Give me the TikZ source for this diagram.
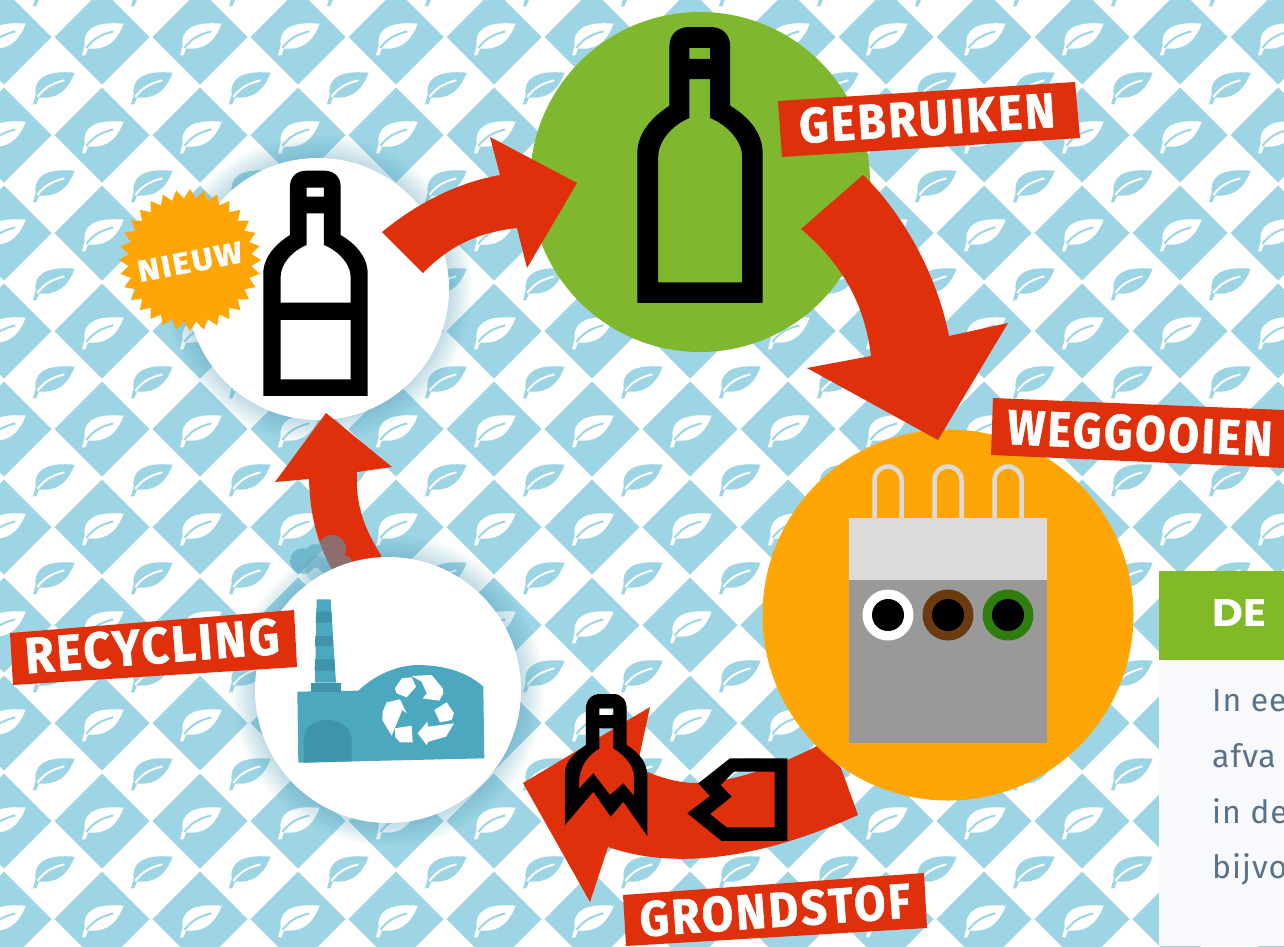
\documentclass[tikz,border=0pt]{standalone}
\usepackage{fontspec}
\usepackage{graphicx}
\usetikzlibrary{shapes.geometric}
\newfontfamily\labfont[LetterSpace=6,BoldFeatures={FakeBold=1.2}]{Fira Sans}
\newfontfamily\headfont{Poppins}
\newfontfamily\bodyfont[LetterSpace=3]{Fira Sans}
\definecolor{tileblue}{HTML}{9DD5E5}
\definecolor{redarrow}{HTML}{DF2F0B}
\definecolor{greenc}{HTML}{7FB82F}
\definecolor{orangec}{HTML}{FFA505}
\definecolor{factory}{HTML}{4BA8BE}
\definecolor{factoryd}{HTML}{3F93AB}
\definecolor{panel}{HTML}{F8F9FD}
\definecolor{panelgreen}{HTML}{82BA27}
\definecolor{bodytext}{HTML}{5A7186}
\definecolor{shadowc}{HTML}{4FA0BC}
\definecolor{holebrown}{HTML}{6B3A10}
\definecolor{holegreen}{HTML}{2F7D0C}
\tikzset{
  tile/.style={fill=tileblue},
  arrowshape/.style={fill=redarrow},
  labelbar/.style={fill=redarrow},
  labeltext/.style={text=white,inner sep=0pt,font=\labfont\bfseries},
  ink/.style={fill=black,even odd rule},
  bodyline/.style={anchor=base west,inner sep=0pt,text=bodytext,font=\bodyfont\fontsize{32}{32}\selectfont},
}
% leaf at centre (#1,#2), body colour #3, vein colour #4
\newcommand{\leafat}[4]{%
  \begin{scope}[shift={(#1,#2)},x=.3333pt,y=-.3333pt]
    \fill[#3] (-60,55) -- (-52,25) .. controls (-58,-20) and (-25,-48) .. (65,-40)
      .. controls (50,0) and (25,34) .. (-25,35) -- (-42,35) -- (-50,55) -- cycle;
    \draw[#4,line width=2pt] (-47,33) .. controls (-25,3) and (0,-8) .. (34,-17);
  \end{scope}}
\newcommand{\softshadow}[3]{%
  \foreach \k in {1,...,12}{\fill[shadowc,opacity=.03] (#1,#2) circle[radius={#3+25-2*\k}];}}
\begin{document}
\begin{tikzpicture}[x=1pt,y=-1pt]
\useasboundingbox (0,0) rectangle (1284,946);
\fill[white] (0,0) rectangle (1284,946);
% pattern
\begin{scope}
\clip (0,0) rectangle (1284,946);
\foreach \i in {0,...,13}{\foreach \j in {0,...,9}{
  \pgfmathsetmacro{\cx}{4+98*\i}\pgfmathsetmacro{\cy}{37+98*\j}
  \fill[tile] (\cx-47.5,\cy) -- (\cx,\cy-47.5) -- (\cx+47.5,\cy) -- (\cx,\cy+47.5) -- cycle;
  \leafat{\cx}{\cy}{white}{tileblue}
  \pgfmathsetmacro{\dx}{53+98*\i}\pgfmathsetmacro{\dy}{86+98*\j}
  \leafat{\dx}{\dy}{tileblue}{white}
}}
\foreach \i in {0,...,13}{
  \pgfmathsetmacro{\dx}{53+98*\i}
  \leafat{\dx}{-12}{tileblue}{white}
}
\end{scope}
% shadows
\softshadow{318}{289}{131}
\softshadow{388}{690}{133}
% arrow grondstof (under orange circle)
\fill[arrowshape] (817,746) .. controls (780,765) and (735,782) .. (697,783)
  .. controls (675,783) and (655,776) .. (637,767) -- (650,707) -- (523,783) -- (590,902) -- (608,847)
  .. controls (660,865) and (740,868) .. (858,815) -- (841,768) -- cycle;
% circles
\fill[greenc] (700,182) circle[radius=170];
\fill[orangec] (948,615) circle[radius=185.5];
\fill[white] (318,289) circle[radius=131];
% bin
\foreach \hx in {888,948,1008}{
  \draw[draw=black!14,line width=4.5pt] (\hx-13.5,518) -- (\hx-13.5,480) arc[start angle=180,end angle=360,radius=13.5] -- (\hx+13.5,518);}
\fill[black!14] (849,518) rectangle (1047,580);
\fill[black!40] (849,580) rectangle (1047,743);
\foreach \hx/\hc in {888/white,948/holebrown,1008/holegreen}{
  \fill[\hc] (\hx,615) circle[radius=25.5];
  \fill[black] (\hx,615) circle[radius=16];}
% arrow 1
\fill[arrowshape] (382,232) .. controls (415,205) and (455,183) .. (500,175) -- (490,137) -- (577,183) -- (527,268) -- (517,228)
  .. controls (480,232) and (450,245) .. (423,273) -- cycle;
% arrow 2
\fill[arrowshape] (863,175) .. controls (895,205) and (935,265) .. (949,336) -- (1008,323) -- (938,440) -- (807,368) -- (871,356)
  .. controls (866,315) and (850,270) .. (801,229) -- cycle;
% arrow 4
\fill[arrowshape] (382,557) .. controls (365,530) and (355,505) .. (357,472) -- (392,467) -- (326,413) -- (275,482) -- (309,479)
  .. controls (310,520) and (320,555) .. (343,587) -- cycle;
% smoke
\fill[shadowc,opacity=.55] (303,561) circle[radius=13] (316,556) circle[radius=12] (332,549) circle[radius=14] (343,565) circle[radius=10] (330,562) circle[radius=13];
\fill[shadowc,opacity=.3] (318,569) circle[radius=13];
% factory circle
\fill[white] (388,690) circle[radius=133];
% factory
\begin{scope}[shift={(240,530)},x=.3333pt,y=-.3333pt]
  \fill[factory] (230,208) -- (272,208) -- (288,458) -- (225,458) -- cycle;
  \fill[factoryd] (229,245) -- (274,245) -- (276,278) -- (227,278) -- cycle
     (226,318) -- (278,318) -- (280,348) -- (225,348) -- cycle
     (225,388) -- (283,388) -- (285,422) -- (224,422) -- cycle;
  \fill[factory] (172,485) -- (355,482) .. controls (400,440) and (460,408) .. (530,405)
     .. controls (610,405) and (680,425) .. (730,470) -- (733,685) -- (175,698) -- cycle;
  \fill[factoryd] (213,458) rectangle (303,485);
  \fill[factoryd] (192,698) -- (192,630) .. controls (192,590) and (225,570) .. (262,570)
     .. controls (300,570) and (335,590) .. (335,630) -- (335,694) -- cycle;
\end{scope}
\begin{scope}[shift={(370,665)},x=.3333pt,y=-.3333pt]
  \fill[white] (125,33) -- (185,30) -- (218,70) -- (220,85) -- (208,107) -- (158,100) -- (170,85) -- (155,50) -- cycle
     (75,70) -- (95,40) -- (125,37) -- (138,65) -- (110,97) -- (80,85) -- cycle
     (193,135) -- (230,112) -- (252,145) -- (245,165) -- (210,172) -- cycle
     (252,175) -- (228,215) -- (175,230) -- (170,240) -- (143,205) -- (172,170) -- (175,185) -- cycle
     (75,190) -- (125,182) -- (128,232) -- (90,232) -- (75,215) -- cycle
     (50,112) -- (90,103) -- (110,145) -- (97,135) -- (65,212) -- (37,165) -- (38,140) -- cycle;
\end{scope}
% new bottle
\begin{scope}[shift={(100,150)},x=.3333pt,y=-.3333pt]
  \fill[ink] (490,738) -- (490,370) .. controls (490,320) and (530,280) .. (570,255) -- (570,110)
     .. controls (570,80) and (590,62) .. (620,62) -- (672,62) .. controls (702,62) and (722,80) .. (722,110)
     -- (722,255) .. controls (765,280) and (803,320) .. (803,370) -- (803,738) -- cycle
     (620,113) rectangle (672,140)
     (620,190) -- (620,285) .. controls (572,305) and (542,345) .. (542,380) -- (542,458) -- (752,458) -- (752,380)
     .. controls (752,345) and (720,305) .. (672,285) -- (672,190) -- cycle
     (542,510) rectangle (752,688);
\end{scope}
% green bottle
\begin{scope}[shift={(441.4,1.7)},x=.4pt,y=-.408pt]
  \fill[ink] (490,738) -- (490,370) .. controls (490,320) and (530,280) .. (570,255) -- (570,110)
     .. controls (570,80) and (590,62) .. (620,62) -- (672,62) .. controls (702,62) and (722,80) .. (722,110)
     -- (722,255) .. controls (765,280) and (803,320) .. (803,370) -- (803,738) -- cycle
     (620,113) rectangle (672,140)
     (620,190) -- (620,285) .. controls (572,305) and (542,345) .. (542,380) -- (542,688) -- (752,688) -- (752,380)
     .. controls (752,345) and (720,305) .. (672,285) -- (672,190) -- cycle;
\end{scope}
% broken bottle + shard
\begin{scope}[shift={(480,670)},x=.3333pt,y=-.3333pt]
  \fill[ink] (255,465) -- (255,310) .. controls (255,270) and (290,245) .. (318,225) -- (318,115)
     .. controls (318,90) and (335,72) .. (360,72) -- (400,72) .. controls (425,72) and (440,90) .. (440,115)
     -- (440,225) .. controls (470,245) and (502,270) .. (502,320) -- (502,498) -- (430,395) -- (392,440) -- (340,365) -- cycle
     (358,115) rectangle (400,135)
     (358,175) -- (358,235) .. controls (320,260) and (297,290) .. (297,345) -- (297,355) -- (340,310) -- (390,375) -- (430,340) -- (462,378)
     -- (462,320) .. controls (462,290) and (440,260) .. (400,235) -- (400,175) -- cycle;
  \fill[ink] (622,430) -- (690,378) -- (655,340) -- (750,265) -- (922,265) -- (922,513) -- (725,513) -- cycle
     (690,432) -- (755,380) -- (722,345) -- (762,305) -- (884,305) -- (884,472) -- (740,472) -- cycle;
\end{scope}
% star
\node[star,star points=32,star point ratio=1.15,minimum size=142pt,fill=orangec,inner sep=0pt] (star) at (190,260) {};
\node[labeltext,rotate=11] (nieuw) at (190,262) {\resizebox{106pt}{21pt}{NIEUW}};
% label bars
\fill[labelbar] (778,101) -- (1075,82) -- (1080,138) -- (782,157) -- cycle;
\node[labeltext,rotate=3.6] (gebruiken) at (927,118) {\resizebox{256pt}{35pt}{GEBRUIKEN}};
\fill[labelbar] (993,398) -- (1284,410) -- (1284,468) -- (991,455) -- cycle;
\node[labeltext,rotate=-2.6] (weggooien) at (1140,433) {\resizebox{265pt}{35pt}{WEGGOOIEN}};
\fill[labelbar] (10,633) -- (294,610) -- (297,667) -- (13,685) -- cycle;
\node[labeltext,rotate=4.5] (recycling) at (152,646) {\resizebox{255pt}{36pt}{RECYCLING}};
\fill[labelbar] (623,895) -- (924,873) -- (927,928) -- (626,946) -- cycle;
\node[labeltext,rotate=4] (grondstof) at (775,910) {\resizebox{271pt}{35pt}{GRONDSTOF}};
% panel
\fill[panel] (1159,660) rectangle (1284,946);
\fill[panelgreen] (1159,571) rectangle (1284,660);
\node[anchor=base west,inner sep=0pt,text=white,font=\headfont\bfseries] (de) at (1212,626) {\resizebox{54pt}{27pt}{DE}};
\node[bodyline] (l1) at (1212,711) {In ee};
\node[bodyline] (l2) at (1212,767) {afva};
\node[bodyline] (l3) at (1212,823) {in de};
\node[bodyline] (l4) at (1212,878) {bijvo};
\end{tikzpicture}
\end{document}
